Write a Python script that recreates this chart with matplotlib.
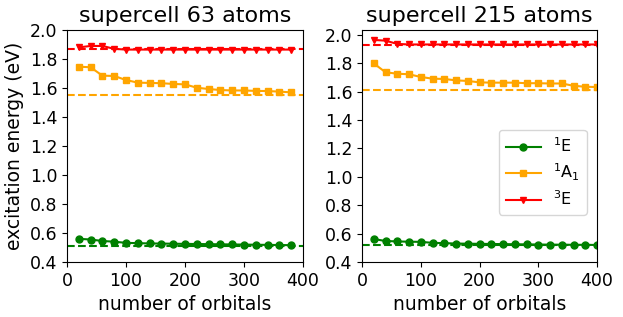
import numpy as np
import matplotlib
matplotlib.use("Agg")
import matplotlib.pyplot as plt

# supercell 63 atoms
n63 = np.arange(20, 381, 20)
e1_63 = [0.56, 0.555, 0.545, 0.54, 0.532, 0.53, 0.528, 0.527, 0.526, 0.525,
         0.524, 0.523, 0.522, 0.521, 0.52, 0.519, 0.518, 0.517, 0.516]
a1_63 = [1.747, 1.743, 1.685, 1.683, 1.655, 1.637, 1.635, 1.633, 1.628, 1.625,
         1.602, 1.593, 1.586, 1.583, 1.583, 1.58, 1.579, 1.575, 1.57]
e3_63 = [1.88, 1.89, 1.89, 1.87, 1.865, 1.865, 1.865, 1.865, 1.865, 1.865,
         1.865, 1.865, 1.865, 1.865, 1.865, 1.865, 1.865, 1.865, 1.865]
ref63 = [0.51, 1.555, 1.868]

# supercell 215 atoms
n215 = np.arange(20, 401, 20)
e1_215 = [0.562, 0.548, 0.545, 0.543, 0.542, 0.535, 0.533, 0.53, 0.529, 0.528,
          0.527, 0.526, 0.525, 0.524, 0.523, 0.522, 0.522, 0.521, 0.521, 0.52]
a1_215 = [1.80, 1.737, 1.727, 1.723, 1.704, 1.692, 1.69, 1.68, 1.676, 1.666,
          1.664, 1.664, 1.664, 1.66, 1.66, 1.658, 1.658, 1.642, 1.635, 1.633]
e3_215 = [1.965, 1.96, 1.937, 1.933, 1.933, 1.933, 1.933, 1.933, 1.933, 1.933,
          1.933, 1.933, 1.933, 1.933, 1.933, 1.933, 1.933, 1.933, 1.933, 1.933]
ref215 = [0.52, 1.61, 1.93]

labels = ['$^1$E', '$^1$A$_1$', '$^3$E']
colors = ['green', 'orange', 'red']
markers = ['o', 's', 'v']

fig = plt.figure(figsize=(6.23, 3.17), dpi=100)
ax1 = fig.add_axes([67/623, 1-262/317, 236/623, 232/317])
ax2 = fig.add_axes([362/623, 1-262/317, 235/623, 232/317])

panels = [(ax1, n63, [e1_63, a1_63, e3_63], ref63, 'supercell 63 atoms', (0.4, 2.0)),
          (ax2, n215, [e1_215, a1_215, e3_215], ref215, 'supercell 215 atoms', (0.4, 2.035))]

for ax, n, series, ref, title, ylim in panels:
    for y, r, lab, c, m in zip(series, ref, labels, colors, markers):
        ax.plot(n, y, color=c, marker=m, markersize=5, lw=1.5, label=lab)
        ax.axhline(r, color=c, ls='--', lw=1.5)
    ax.set_xlim(0, 400)
    ax.set_ylim(*ylim)
    ax.set_xticks([0, 100, 200, 300, 400])
    ax.set_yticks(np.arange(0.4, 2.01, 0.2))
    ax.tick_params(labelsize=12.5)
    ax.set_title(title, fontsize=16)
    ax.set_xlabel('number of orbitals', fontsize=13.5)

ax1.set_ylabel('excitation energy (eV)', fontsize=13.5)
ax2.legend(loc='center right', bbox_to_anchor=(0.99, 0.386), fontsize=11.5,
           handlelength=2.2, labelspacing=0.4)

fig.savefig('out.png', dpi=100)
